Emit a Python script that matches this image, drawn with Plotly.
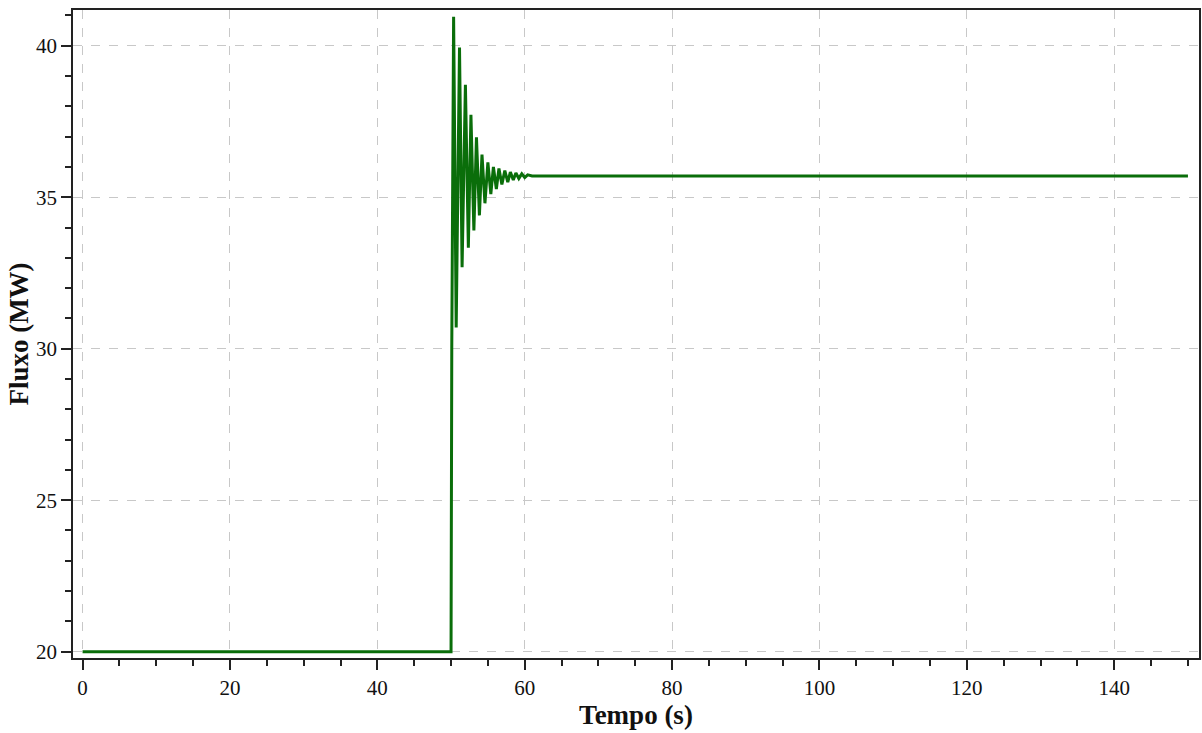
import plotly.graph_objects as go

# Time (s) and flow (MW), at the turning points of the response
tempo = [0, 50.0, 50.1, 50.35, 50.7, 51.15, 51.5, 51.95, 52.35, 52.7, 53.1, 53.45,
         53.85, 54.2, 54.6, 55.0, 55.4, 55.75, 56.15, 56.5, 56.9, 57.3, 57.7,
         58.05, 58.45, 58.8, 59.2, 59.6, 60.0, 60.4, 61.0, 150.0]
fluxo = [20.0, 20.0, 30.0, 40.96, 30.7, 39.94, 32.69, 38.71, 33.33, 37.72, 33.9, 36.98,
         34.4, 36.41, 34.8, 36.15, 35.1, 36.0, 35.27, 35.95, 35.42, 35.88, 35.5,
         35.83, 35.57, 35.8, 35.62, 35.77, 35.65, 35.74, 35.7, 35.7]

x_ticks = [0, 20, 40, 60, 80, 100, 120, 140]
y_ticks = [20, 25, 30, 35, 40]

fig = go.Figure()
fig.add_trace(go.Scatter(x=tempo, y=fluxo, mode="lines",
                         line=dict(color="#0a6e0a", width=3), showlegend=False))

font = "Liberation Serif, Times New Roman, serif"
axis_common = dict(
    showline=True, linecolor="#222", linewidth=1.5, mirror=True,
    showgrid=True, gridcolor="#c8c8c8", griddash="dash", gridwidth=1,
    zeroline=False, ticks="outside", ticklen=10, tickwidth=1.5, tickcolor="#222",
    tickfont=dict(family=font, size=21, color="#111"),
)

fig.update_xaxes(range=[-1.3, 151.5], tickvals=x_ticks,
                 minor=dict(dtick=5, ticks="outside", ticklen=6, tickwidth=1.5,
                            tickcolor="#222", showgrid=False),
                 title=dict(text="<b>Tempo (s)</b>", font=dict(family=font, size=27, color="#111"),
                            standoff=2),
                 **axis_common)
fig.update_yaxes(range=[19.79, 41.18], tickvals=y_ticks,
                 minor=dict(dtick=1, ticks="outside", ticklen=6, tickwidth=1.5,
                            tickcolor="#222", showgrid=False),
                 title=dict(text="<b>Fluxo (MW)</b>", font=dict(family=font, size=27, color="#111"),
                            standoff=0),
                 **axis_common)

fig.update_layout(width=1202, height=733, paper_bgcolor="white", plot_bgcolor="white",
                  margin=dict(l=73, r=3, t=10, b=75, autoexpand=False))

fig.write_html("out.html", config={"displayModeBar": False},
               post_script="document.body.style.margin='0';document.body.style.overflow='hidden';")
